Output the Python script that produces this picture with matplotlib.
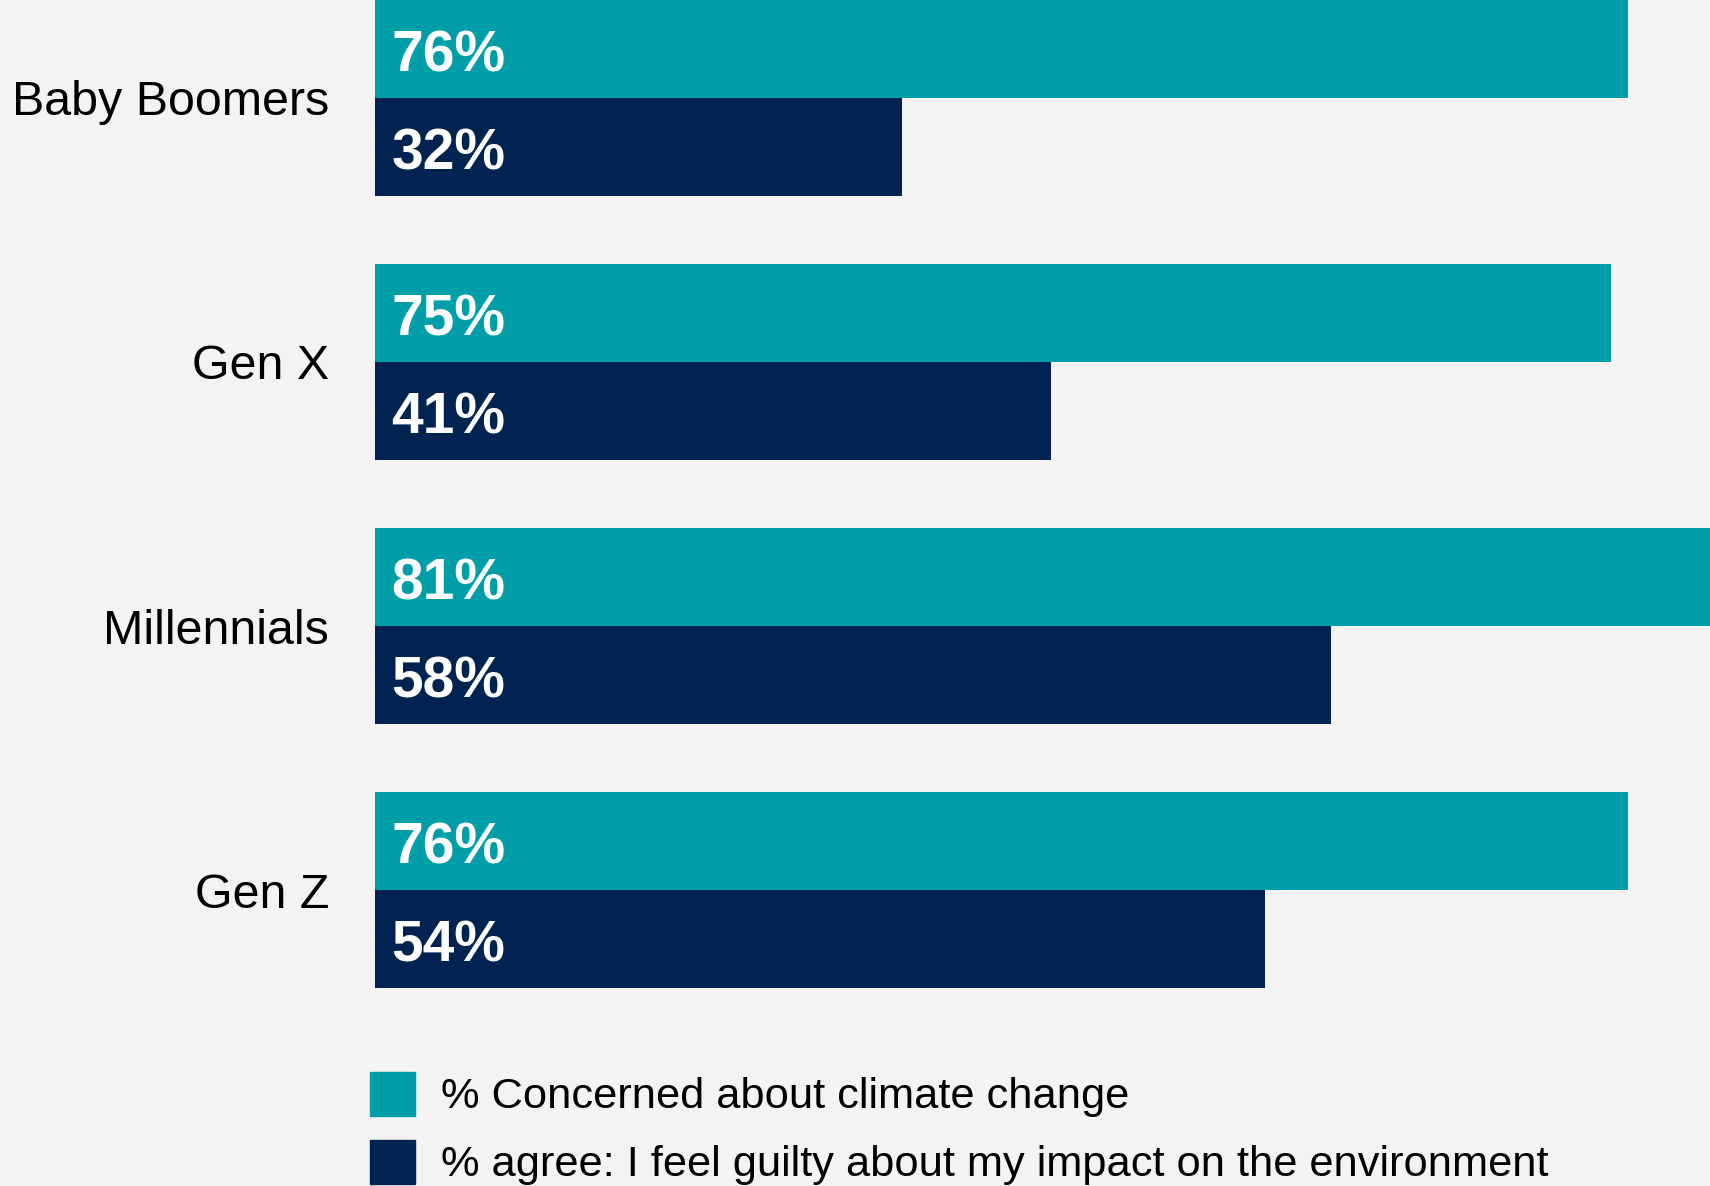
import matplotlib.pyplot as plt
import numpy as np
from matplotlib.patches import Patch

plt.rcParams['font.family'] = ['Liberation Sans', 'DejaVu Sans']

# Data
generations = ['Baby Boomers', 'Gen X', 'Millennials', 'Gen Z']
concerned = [76, 75, 81, 76]
guilty = [32, 41, 58, 54]
series_names = ['% Concerned about climate change',
                '% agree: I feel guilty about my impact on the environment']

teal = '#009ea9'
navy = '#002351'
bg = '#f3f3f3'

fig = plt.figure(figsize=(17.1, 11.86), dpi=100, facecolor=bg)
ax = fig.add_axes([375 / 1710, 1 - 988 / 1186, 1 - 375 / 1710, 988 / 1186])
ax.set_facecolor(bg)

y = np.arange(len(generations))
h = 0.371
ax.barh(y - h / 2, concerned, height=h, color=teal, label=series_names[0])
ax.barh(y + h / 2, guilty, height=h, color=navy, label=series_names[1])

# value labels inside the bars
off = 0.028
for i in range(len(generations)):
    ax.text(1, y[i] - h / 2 + off, f'{concerned[i]}%', color='white', fontsize=41,
            fontweight='bold', va='center', ha='left')
    ax.text(1, y[i] + h / 2 + off, f'{guilty[i]}%', color='white', fontsize=41,
            fontweight='bold', va='center', ha='left')

ax.set_xlim(0, 81)
ax.set_ylim(3 + h, -h)
ax.set_yticks(y)
ax.set_yticklabels(generations, fontsize=34.8)
ax.tick_params(axis='y', length=0, pad=33)
ax.set_xticks([])
for s in ax.spines.values():
    s.set_visible(False)

handles = [Patch(color=teal), Patch(color=navy)]
fig.legend(handles, series_names, loc='upper left',
           bbox_to_anchor=(370 / 1710, 1 - 1072 / 1186), frameon=False,
           fontsize=31.2, handlelength=1.03, handleheight=1.17,
           handletextpad=0.6, labelspacing=0.52, borderpad=0, borderaxespad=0)

fig.savefig('out.png', dpi=100, facecolor=bg)
